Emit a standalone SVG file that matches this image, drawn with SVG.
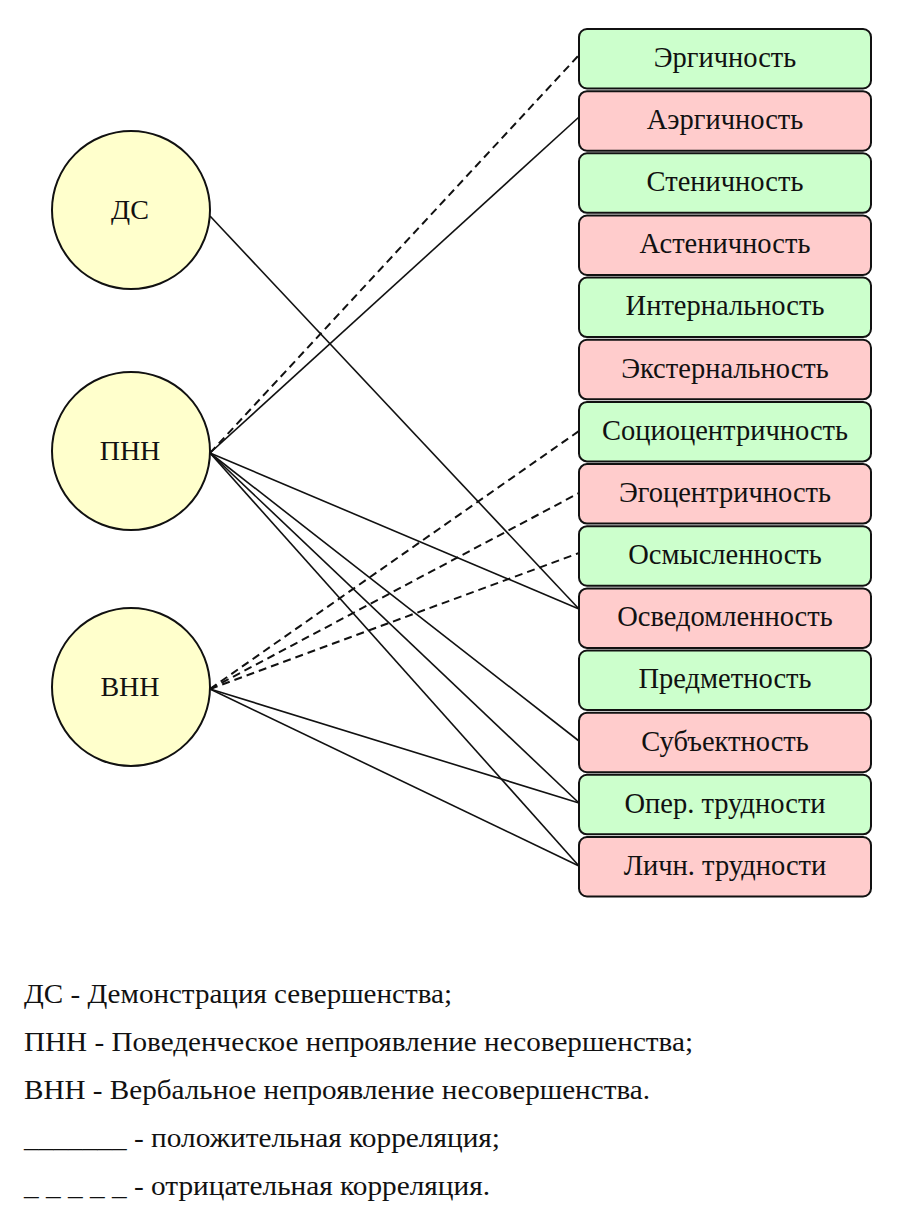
<svg xmlns="http://www.w3.org/2000/svg" width="915" height="1222" viewBox="0 0 915 1222">
<defs>
<rect id="box" width="292" height="59.5" rx="8" stroke="#111" stroke-width="2"/>
</defs>
<rect width="915" height="1222" fill="#fff"/>
<g id="connectors" stroke="#111" fill="none">
<g stroke-width="1.6">
<line x1="210" y1="216" x2="579" y2="609"/>
<line x1="210" y1="453" x2="579" y2="117"/>
<line x1="210" y1="453" x2="579" y2="609"/>
<line x1="210" y1="453" x2="579" y2="741"/>
<line x1="210" y1="453" x2="579" y2="803"/>
<line x1="210" y1="453" x2="579" y2="866"/>
<line x1="210" y1="689" x2="579" y2="803"/>
<line x1="210" y1="689" x2="579" y2="866"/>
</g>
<g stroke-width="2" stroke-dasharray="8 5">
<line x1="210" y1="453" x2="579" y2="55"/>
<line x1="210" y1="689" x2="579" y2="431"/>
<line x1="210" y1="689" x2="579" y2="493"/>
<line x1="210" y1="689" x2="579" y2="553"/>
</g>
</g>
<g id="circles" font-family="Times New Roman, serif" font-size="28" text-anchor="middle">
<g id="n-ds"><circle cx="131" cy="210" r="79" fill="#ffffcc" stroke="#111" stroke-width="2"/><text x="130" y="219" fill="#111">ДС</text></g>
<g id="n-pnn"><circle cx="131" cy="451" r="79" fill="#ffffcc" stroke="#111" stroke-width="2"/><text x="130" y="460" fill="#111">ПНН</text></g>
<g id="n-vnn"><circle cx="131" cy="687" r="79" fill="#ffffcc" stroke="#111" stroke-width="2"/><text x="130" y="696" fill="#111">ВНН</text></g>
</g>
<g id="boxes" font-family="Times New Roman, serif" font-size="28.5" text-anchor="middle">
<g id="b1"><use href="#box" x="579" y="29" fill="#ccffcc"/><text x="725" y="67" fill="#111">Эргичность</text></g>
<g id="b2"><use href="#box" x="579" y="91.2" fill="#ffcccc"/><text x="725" y="129" fill="#111">Аэргичность</text></g>
<g id="b3"><use href="#box" x="579" y="153.3" fill="#ccffcc"/><text x="725" y="191" fill="#111">Стеничность</text></g>
<g id="b4"><use href="#box" x="579" y="215.5" fill="#ffcccc"/><text x="725" y="253" fill="#111">Астеничность</text></g>
<g id="b5"><use href="#box" x="579" y="277.6" fill="#ccffcc"/><text x="725" y="315" fill="#111">Интернальность</text></g>
<g id="b6"><use href="#box" x="579" y="339.8" fill="#ffcccc"/><text x="725" y="378" fill="#111">Экстернальность</text></g>
<g id="b7"><use href="#box" x="579" y="401.9" fill="#ccffcc"/><text x="725" y="440" fill="#111">Социоцентричность</text></g>
<g id="b8"><use href="#box" x="579" y="464.1" fill="#ffcccc"/><text x="725" y="502" fill="#111">Эгоцентричность</text></g>
<g id="b9"><use href="#box" x="579" y="526.2" fill="#ccffcc"/><text x="725" y="564" fill="#111">Осмысленность</text></g>
<g id="b10"><use href="#box" x="579" y="588.4" fill="#ffcccc"/><text x="725" y="626" fill="#111">Осведомленность</text></g>
<g id="b11"><use href="#box" x="579" y="650.5" fill="#ccffcc"/><text x="725" y="688" fill="#111">Предметность</text></g>
<g id="b12"><use href="#box" x="579" y="712.7" fill="#ffcccc"/><text x="725" y="751" fill="#111">Субъектность</text></g>
<g id="b13"><use href="#box" x="579" y="774.8" fill="#ccffcc"/><text x="725" y="813" fill="#111">Опер. трудности</text></g>
<g id="b14"><use href="#box" x="579" y="837" fill="#ffcccc"/><text x="725" y="875" fill="#111">Личн. трудности</text></g>
</g>
<g id="legend" font-family="Times New Roman, serif" font-size="28" fill="#111">
<text x="24" y="1003" textLength="428" lengthAdjust="spacingAndGlyphs">ДС - Демонстрация севершенства;</text>
<text x="24" y="1051" textLength="669" lengthAdjust="spacingAndGlyphs">ПНН - Поведенческое непроявление несовершенства;</text>
<text x="24" y="1099" textLength="626" lengthAdjust="spacingAndGlyphs">ВНН - Вербальное непроявление несовершенства.</text>
<text x="24" y="1147" textLength="476" lengthAdjust="spacingAndGlyphs">_______ - положительная корреляция;</text>
<text x="24" y="1195" textLength="466" lengthAdjust="spacingAndGlyphs">_ _ _ _ _ - отрицательная корреляция.</text>
</g>
</svg>
